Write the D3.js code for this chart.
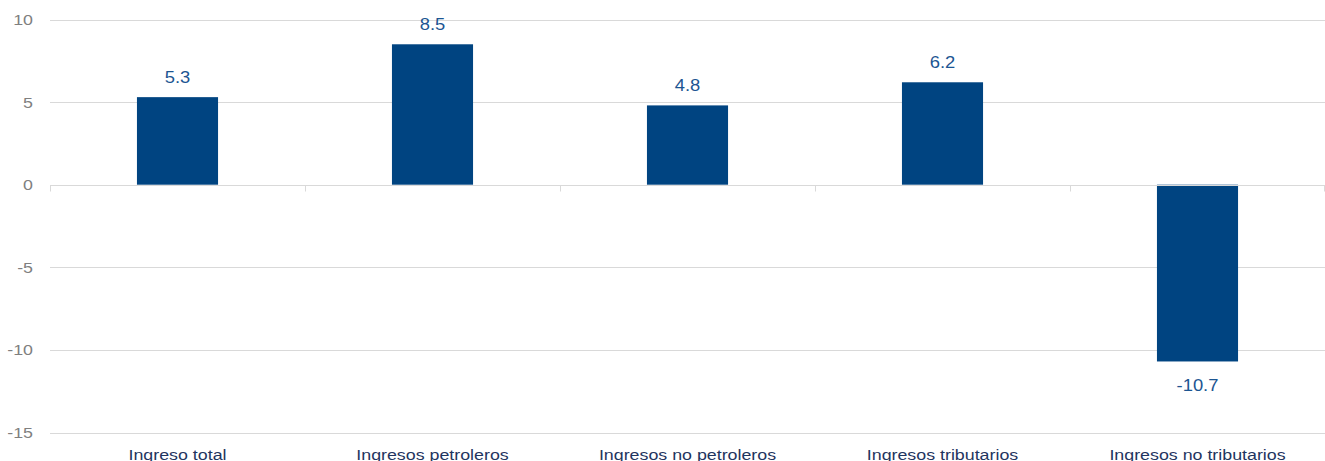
<!DOCTYPE html>
<html>
<head>
<meta charset="utf-8">
<script src="https://cdn.jsdelivr.net/npm/d3@7"></script>
<style>
  body { margin: 0; background: #fff; }
  text { font-family: "Liberation Sans", Arial, sans-serif; }
</style>
</head>
<body>
<div class="chart"></div>
<script>
// data
var categories = ["Ingreso total", "Ingresos petroleros", "Ingresos no petroleros", "Ingresos tributarios", "Ingresos no tributarios"];
var values = [5.3, 8.5, 4.8, 6.2, -10.7];
var yTicks = [10, 5, 0, -5, -10, -15];

var width = 1325, height = 461;
// plot area (don't call these top/left, window.top is read-only)
var plotLeft = 50, plotRight = 1325, plotTop = 19.5, plotBottom = 432.5;
// text in the original is a bit wider than plain Arial
var stretch = 1.15;

var svg = d3.select(".chart")
  .append("svg")
    .attr("width", width)
    .attr("height", height);

var x = d3.scaleBand()
  .domain(categories)
  .range([plotLeft, plotRight])
  .paddingInner(0)
  .paddingOuter(0);

var y = d3.scaleLinear()
  .domain([-15, 10])
  .range([plotBottom, plotTop]);

var barW = x.bandwidth() * 0.318;

// gridlines
svg.append("g").selectAll("line")
  .data(yTicks)
  .enter().append("line")
    .attr("x1", plotLeft)
    .attr("x2", plotRight)
    .attr("y1", function(d) { return Math.round(y(d)) + 0.5; })
    .attr("y2", function(d) { return Math.round(y(d)) + 0.5; })
    .style("stroke", "#d9d9d9")
    .style("stroke-width", 1);

// y tick labels
svg.append("g").selectAll("text")
  .data(yTicks)
  .enter().append("text")
    .attr("transform", function(d) { return "translate(33," + (y(d) + 5.5) + ") scale(" + stretch + ",1)"; })
    .attr("text-anchor", "end")
    .style("font-size", "15.5px")
    .style("fill", "#7f7f7f")
    .text(function(d) { return d; });

// bars
svg.append("g").selectAll("rect")
  .data(values)
  .enter().append("rect")
    .attr("x", function(d, i) { return x(categories[i]) + x.bandwidth() / 2 - barW / 2; })
    .attr("y", function(d) { return y(Math.max(0, d)); })
    .attr("width", barW)
    .attr("height", function(d) { return Math.abs(y(d) - y(0)); })
    .style("fill", "#004481");

// zero line with category ticks
var zy = Math.round(y(0)) + 0.5;
svg.append("line")
  .attr("x1", plotLeft).attr("x2", plotRight)
  .attr("y1", zy).attr("y2", zy)
  .style("stroke", "#d9d9d9");

var bounds = categories.map(function(c) { return x(c); }).concat([plotRight]);
svg.append("g").selectAll("line")
  .data(bounds)
  .enter().append("line")
    .attr("x1", function(d) { return Math.min(Math.round(d) + 0.5, plotRight - 0.5); })
    .attr("x2", function(d) { return Math.min(Math.round(d) + 0.5, plotRight - 0.5); })
    .attr("y1", zy)
    .attr("y2", zy + 6)
    .style("stroke", "#d9d9d9");

// value labels
svg.append("g").selectAll("text")
  .data(values)
  .enter().append("text")
    .attr("transform", function(d, i) {
      var cx = x(categories[i]) + x.bandwidth() / 2;
      var ty = d >= 0 ? y(d) - 14.5 : y(d) + 29.5;
      return "translate(" + cx + "," + ty + ") scale(" + stretch + ",1)";
    })
    .attr("text-anchor", "middle")
    .style("font-size", "16px")
    .style("fill", "#1c5592")
    .text(function(d) { return d.toFixed(1); });

// category labels
svg.append("g").selectAll("text")
  .data(categories)
  .enter().append("text")
    .attr("transform", function(d) { return "translate(" + (x(d) + x.bandwidth() / 2) + ",459.5) scale(" + stretch + ",1)"; })
    .attr("text-anchor", "middle")
    .style("font-size", "15.5px")
    .style("fill", "#1f3560")
    .text(function(d) { return d; });
</script>
</body>
</html>
